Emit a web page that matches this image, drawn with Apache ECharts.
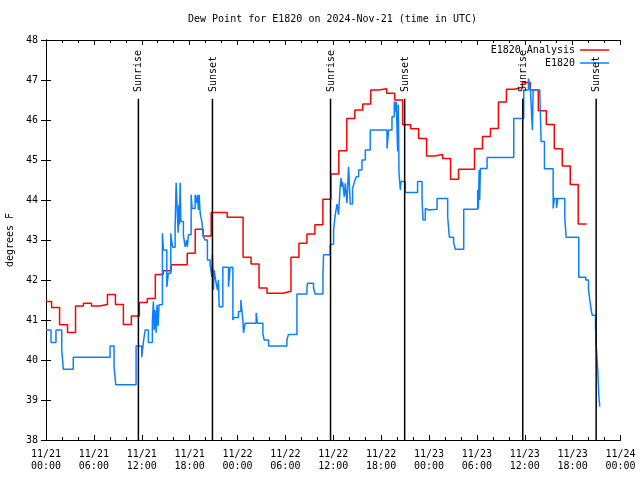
<!DOCTYPE html>
<html><head><meta charset="utf-8">
<script src="https://cdn.jsdelivr.net/npm/echarts@6/dist/echarts.min.js"></script>
<style>html,body{margin:0;padding:0;background:#fff}#c{width:640px;height:480px}</style>
</head><body><div id="c"></div>
<script>
// x axis: hours since 2024-11-21 00:00 UTC
const xTickLabels = ["11/21\n00:00","11/21\n06:00","11/21\n12:00","11/21\n18:00","11/22\n00:00","11/22\n06:00","11/22\n12:00","11/22\n18:00","11/23\n00:00","11/23\n06:00","11/23\n12:00","11/23\n18:00","11/24\n00:00"];

// E1820 Analysis: hourly values; value i holds from hour i-0.3 to i+0.7
const redStartOffset = -0.3;
const redEnd = 67.75;
const redValues = [41.46,41.31,40.88,40.69,41.35,41.42,41.35,41.39,41.64,41.39,
  40.89,41.10,41.44,41.54,42.14,42.23,42.38,42.38,42.67,43.27,
  43.10,43.69,43.69,43.57,43.57,42.57,42.40,41.80,41.67,41.67,
  41.72,42.57,42.92,43.15,43.38,44.02,44.65,45.23,46.04,46.25,
  46.40,46.75,46.78,46.67,46.50,45.88,45.78,45.54,45.10,45.14,
  45.04,44.52,44.77,44.77,45.28,45.59,45.79,46.45,46.77,46.82,
  46.94,46.75,46.23,45.89,45.28,44.85,44.39,43.40];

// E1820 observations (step changes)
const blueTimes = [0,0.63,1.25,1.97,2.17,3.42,8.03,8.53,8.74,11.29,
  12.0,12.2,12.42,12.83,13.33,13.46,13.55,13.67,13.8,13.92,
  14.05,14.17,14.59,14.71,15.14,15.34,15.64,15.72,15.89,16.18,
  16.31,16.47,16.56,16.65,16.72,16.81,16.9,17.22,17.44,17.65,
  17.72,17.85,18.19,18.31,18.69,18.9,18.98,19.1,19.19,19.32,
  19.53,19.73,19.94,20.23,20.57,20.79,20.86,20.99,21.07,21.32,
  21.49,21.61,21.7,22.16,22.87,23.08,23.42,23.59,24.12,24.42,
  24.67,24.75,24.96,26.34,26.5,27.18,27.35,27.89,30.19,30.39,
  31.45,32.7,32.78,33.53,33.74,34.71,34.78,35.62,35.84,36.04,
  36.25,36.47,36.67,36.88,36.97,37.09,37.17,37.25,37.38,37.51,
  37.72,37.92,38.13,38.42,38.67,38.89,39.18,39.6,40.02,40.64,
  42.74,42.94,43.36,43.65,43.78,43.9,44.07,44.15,44.24,44.41,
  44.49,45.03,46.57,47.13,47.25,47.54,47.75,47.95,49.01,50.34,
  50.55,51.09,51.3,52.35,54.1,54.19,54.28,54.35,54.44,55.28,
  58.62,59.87,60.46,60.71,60.96,61.05,61.88,62.05,62.47,63.56,
  63.72,63.98,64.14,65.02,65.19,66.77,67.65,67.99,68.15,68.33,
  68.45,68.87,68.93,68.99,69.16,69.28,69.4];
const blueValues = [40.75,40.44,40.75,40.27,39.77,40.07,40.35,39.83,39.38,40.35,
  40.07,40.44,40.75,40.44,40.96,41.46,40.75,41.25,40.68,41.38,
  40.85,41.38,43.17,42.75,41.83,42.17,43.17,43.0,42.82,43.29,
  44.43,43.63,43.18,43.88,43.38,44.43,43.46,43.13,42.83,43.0,
  42.83,43.13,44.13,43.79,44.13,43.93,44.13,43.75,44.13,43.67,
  43.46,43.08,43.0,42.5,42.38,42.08,42.63,41.75,42.25,41.93,
  41.75,42.0,41.33,42.32,41.83,42.32,41.0,41.06,41.21,41.5,
  41.0,40.68,40.92,41.18,40.92,40.65,40.5,40.35,40.5,40.64,
  41.65,41.8,41.92,41.8,41.65,42.13,42.63,42.88,42.9,43.25,
  43.63,43.9,43.63,44.38,44.55,44.33,44.45,44.33,44.08,44.42,
  43.92,44.83,43.9,44.29,44.46,44.58,44.75,45.0,45.25,45.75,
  45.29,45.75,46.08,46.46,46.21,46.46,45.21,46.38,44.67,44.25,
  44.46,44.19,44.46,44.0,43.5,43.79,43.75,43.77,44.04,43.58,
  43.07,42.93,42.77,43.77,44.25,43.78,44.75,44.0,44.79,45.06,
  46.04,46.75,47.04,46.75,45.75,46.75,46.8,45.46,44.78,43.79,
  44.04,43.8,44.04,43.54,43.07,42.07,42.0,41.77,41.5,41.25,
  41.12,40.83,40.38,40.25,39.71,39.13,38.83];

// Sunrise / sunset marks (hours)
const sunTimes = [11.58,20.86,35.66,44.95,59.75,68.95];
const sunLabels = ["Sunrise","Sunset","Sunrise","Sunset","Sunrise","Sunset"];
const sunLineTop = 46.53;
const sunLabelBase = 46.7;

const FONT = 'DejaVu Sans Mono';

const redData = redValues.map((v, i) => [Math.max(0, i + redStartOffset), v]);
redData.push([redEnd, redValues[redValues.length - 1]]);
const blueData = blueTimes.map((t, i) => [t, blueValues[i]]);

const chart = echarts.init(document.getElementById('c'), null, {renderer: 'canvas'});
const axisCommonX = {
  type: 'value', min: 0, max: 72, interval: 6,
  axisLine: {show: true, lineStyle: {color: '#000', width: 1}},
  axisTick: {show: true, inside: true, length: 5, lineStyle: {color: '#000'}},
  minorTick: {show: true, splitNumber: 3, length: 3, lineStyle: {color: '#000'}},
  splitLine: {show: false}
};
const axisCommonY = {
  type: 'value', min: 38, max: 48, interval: 1,
  axisLine: {show: true, lineStyle: {color: '#000', width: 1}},
  axisTick: {show: true, inside: true, length: 5, lineStyle: {color: '#000'}},
  splitLine: {show: false}
};
chart.setOption({
  animation: false,
  backgroundColor: '#fff',
  title: {
    text: 'Dew Point for E1820 on 2024-Nov-21 (time in UTC)',
    left: 188, top: 14, padding: 0,
    textStyle: {fontFamily: FONT, fontSize: 10, fontWeight: 'normal', color: '#000'}
  },
  legend: {
    data: [{name: 'E1820 Analysis', icon: 'rect'}, {name: 'E1820', icon: 'rect'}],
    orient: 'vertical', right: 31, top: 44, align: 'right', padding: 0,
    itemWidth: 29, itemHeight: 1.5, itemGap: 1,
    textStyle: {fontFamily: FONT, fontSize: 10, color: '#000', lineHeight: 12}
  },
  grid: {left: 46, right: 19.5, top: 40, bottom: 40, containLabel: false, outerBoundsMode: 'none'},
  xAxis: [
    Object.assign({}, axisCommonX, {
      position: 'bottom',
      axisLabel: {show: true, margin: 8, fontFamily: FONT, fontSize: 10, color: '#000', lineHeight: 12,
        formatter: v => xTickLabels[Math.round(v / 6)]}
    }),
    Object.assign({}, axisCommonX, {position: 'top', axisLabel: {show: false}})
  ],
  yAxis: [
    Object.assign({}, axisCommonY, {
      position: 'left',
      name: 'degrees F', nameLocation: 'middle', nameGap: 31,
      nameTextStyle: {fontFamily: FONT, fontSize: 10, color: '#000'},
      axisLabel: {show: true, margin: 8, fontFamily: FONT, fontSize: 10, color: '#000'}
    }),
    Object.assign({}, axisCommonY, {position: 'right', axisLabel: {show: false}})
  ],
  series: [
    {
      name: 'E1820 Analysis', type: 'line', step: 'end', data: redData,
      symbol: 'none', color: '#ff0000',
      lineStyle: {color: '#ff0000', width: 1.5}, z: 2
    },
    {
      name: 'E1820', type: 'line', step: 'end', data: blueData,
      symbol: 'none', color: '#0a80ff',
      lineStyle: {color: '#0a80ff', width: 1.5}, z: 3
    },
    {
      name: 'sun', type: 'custom', z: 4,
      data: sunTimes.map(t => [t, 38]),
      encode: {x: 0, y: 1},
      renderItem: function (params, api) {
        const t = api.value(0);
        const top = api.coord([t, sunLineTop]);
        const bot = api.coord([t, 38]);
        const lab = api.coord([t, sunLabelBase]);
        return {
          type: 'group',
          children: [
            {type: 'line', shape: {x1: top[0], y1: top[1], x2: bot[0], y2: bot[1]},
             style: {stroke: '#000', lineWidth: 1.5}},
            {type: 'text', x: lab[0] + 0.5, y: lab[1], rotation: Math.PI / 2,
             style: {text: sunLabels[params.dataIndex], fill: '#000', font: '10px "DejaVu Sans Mono"',
               align: 'left', verticalAlign: 'middle'}}
          ]
        };
      }
    }
  ]
});
</script></body></html>
